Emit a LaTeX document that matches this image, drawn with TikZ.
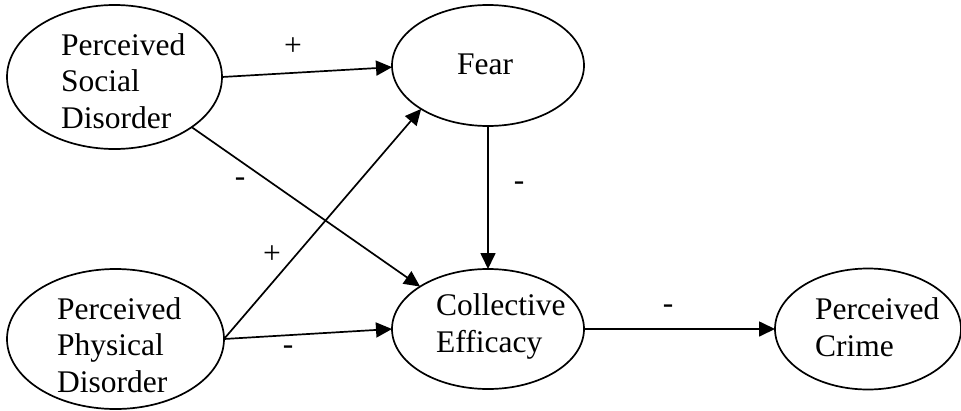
\documentclass[tikz,border=0pt]{standalone}
\usepackage{fontspec}
\setmainfont{Liberation Serif}
\usetikzlibrary{shapes.geometric,arrows.meta}
\begin{document}
\begin{tikzpicture}[x=1pt,y=-1pt,
  construct/.style={draw,ellipse,line width=1.7pt,inner sep=0pt,outer sep=0pt},
  caption/.style={anchor=base west,inner sep=0pt,align=left,
    font=\fontsize{31.5}{36.5}\selectfont},
  sign/.style={inner sep=0pt,font=\fontsize{31.5}{36.5}\selectfont},
  path/.style={line width=1.7pt,-{Triangle[length=16pt,width=15pt]}}]
\useasboundingbox (0,0) rectangle (961,410);

% latent constructs
\node[construct,minimum width=215pt,minimum height=144pt] (psd) at (114.5,77) {};
\node[construct,minimum width=192pt,minimum height=121pt] (fear) at (488,65.5) {};
\node[construct,minimum width=217pt,minimum height=140pt] (ppd) at (115.5,339) {};
\node[construct,minimum width=192pt,minimum height=120pt] (ce) at (488,329) {};
\node[construct,minimum width=186pt,minimum height=121pt] (pc) at (868,329) {};

% construct names (anchored on the baseline of the last line)
\node[caption] (psdt) at (61,128) {Perceived\\Social\\Disorder};
\node[caption] (feart) at (457,74) {Fear};
\node[caption] (ppdt) at (57,392) {Perceived\\Physical\\Disorder};
\node[caption] (cet) at (436,352) {Collective\\Efficacy};
\node[caption] (pct) at (815,356) {Perceived\\Crime};

% hypothesised paths
\draw[path] (psd.east) -- (fear.181);
\draw[path] (psd.-33) -- (ce.148);
\draw[path] (ppd.east) -- (fear.213);
\draw[path] (ppd.east) -- (ce.west);
\draw[path] (fear.south) -- (ce.north);
\draw[path] (ce.east) -- (pc.west);

% signs of the paths
\node[sign] (s1) at (293,47) {+};
\node[sign] (s2) at (240,182) {-};
\node[sign] (s3) at (272,255) {+};
\node[sign] (s4) at (288,350) {-};
\node[sign] (s5) at (519,186) {-};
\node[sign] (s6) at (668,309) {-};
\end{tikzpicture}
\end{document}
